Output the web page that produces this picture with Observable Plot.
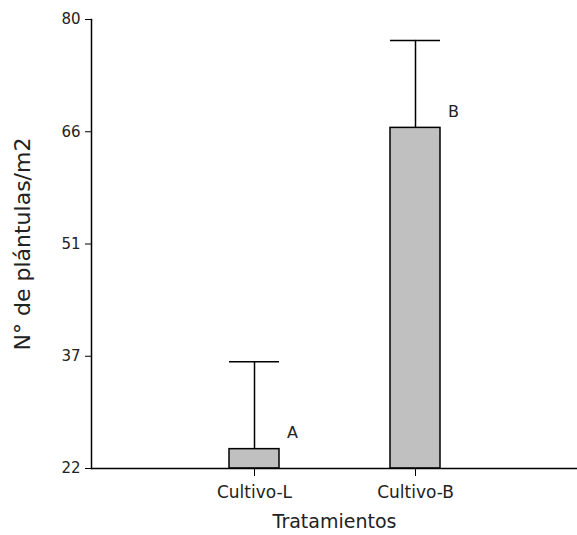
<!DOCTYPE html>
<html>
<head>
<meta charset="utf-8">
<script src="https://cdn.jsdelivr.net/npm/d3@7"></script>
<script src="https://cdn.jsdelivr.net/npm/@observablehq/plot@0.6"></script>
<style>
  html, body { margin: 0; padding: 0; background: #fff; }
  #chart svg { display: block; }
</style>
</head>
<body>
<div id="chart"></div>
<script>
const categories = ["Cultivo-L", "Cultivo-B"];
const means = [24.5, 66.0];
const uppers = [35.8, 77.3];
const letters = ["A", "B"];
const yTicks = [22, 36.5, 51, 65.5, 80];
const yTickLabels = ["22", "37", "51", "66", "80"];
const xTitle = "Tratamientos";
const yTitle = "N° de plántulas/m2";

const data = categories.map((c, i) => ({cat: c, mean: means[i], upper: uppers[i], letter: letters[i]}));
const font = "'DejaVu Sans', Verdana, sans-serif";

const chart = Plot.plot({
  width: 577,
  height: 535,
  marginLeft: 91,
  marginRight: 0,
  marginTop: 19,
  marginBottom: 67,
  style: {fontFamily: font, fontSize: "14px", color: "#222", background: "#fff"},
  x: {type: "band", domain: categories, paddingInner: 0.69, paddingOuter: 0.85, label: null},
  y: {domain: [22, 80], label: null},
  marks: [
    Plot.barY(data, {x: "cat", y1: 22, y2: "mean", fill: "#c0c0c0", stroke: "#000", strokeWidth: 1.5}),
    Plot.ruleX(data, {x: "cat", y1: "mean", y2: "upper", stroke: "#000", strokeWidth: 1.5}),
    Plot.tickY(data, {x: "cat", y: "upper", stroke: "#000", strokeWidth: 1.5}),
    Plot.text(data, {x: "cat", y: "mean", text: "letter", dx: 38, dy: -16, fontSize: 16, fill: "#222"}),
    Plot.axisY({ticks: yTicks, tickFormat: d => yTickLabels[yTicks.indexOf(d)], tickSize: 6, tickPadding: 5, label: null, fontSize: 15, stroke: "#000"}),
    Plot.axisX({tickSize: 8, tickPadding: 9, label: null, fontSize: 17, stroke: "#000"}),
    Plot.ruleY([22], {stroke: "#000", strokeWidth: 1.5}),
    Plot.frame({anchor: "left", stroke: "#000", strokeWidth: 1.5}),
    Plot.text([yTitle], {frameAnchor: "left", textAnchor: "middle", rotate: -90, dx: -69, fontSize: 22, fill: "#222"}),
    Plot.text([xTitle], {frameAnchor: "bottom", dy: 59, fontSize: 19, fill: "#222"})
  ]
});
document.getElementById("chart").append(chart);
</script>
</body>
</html>
